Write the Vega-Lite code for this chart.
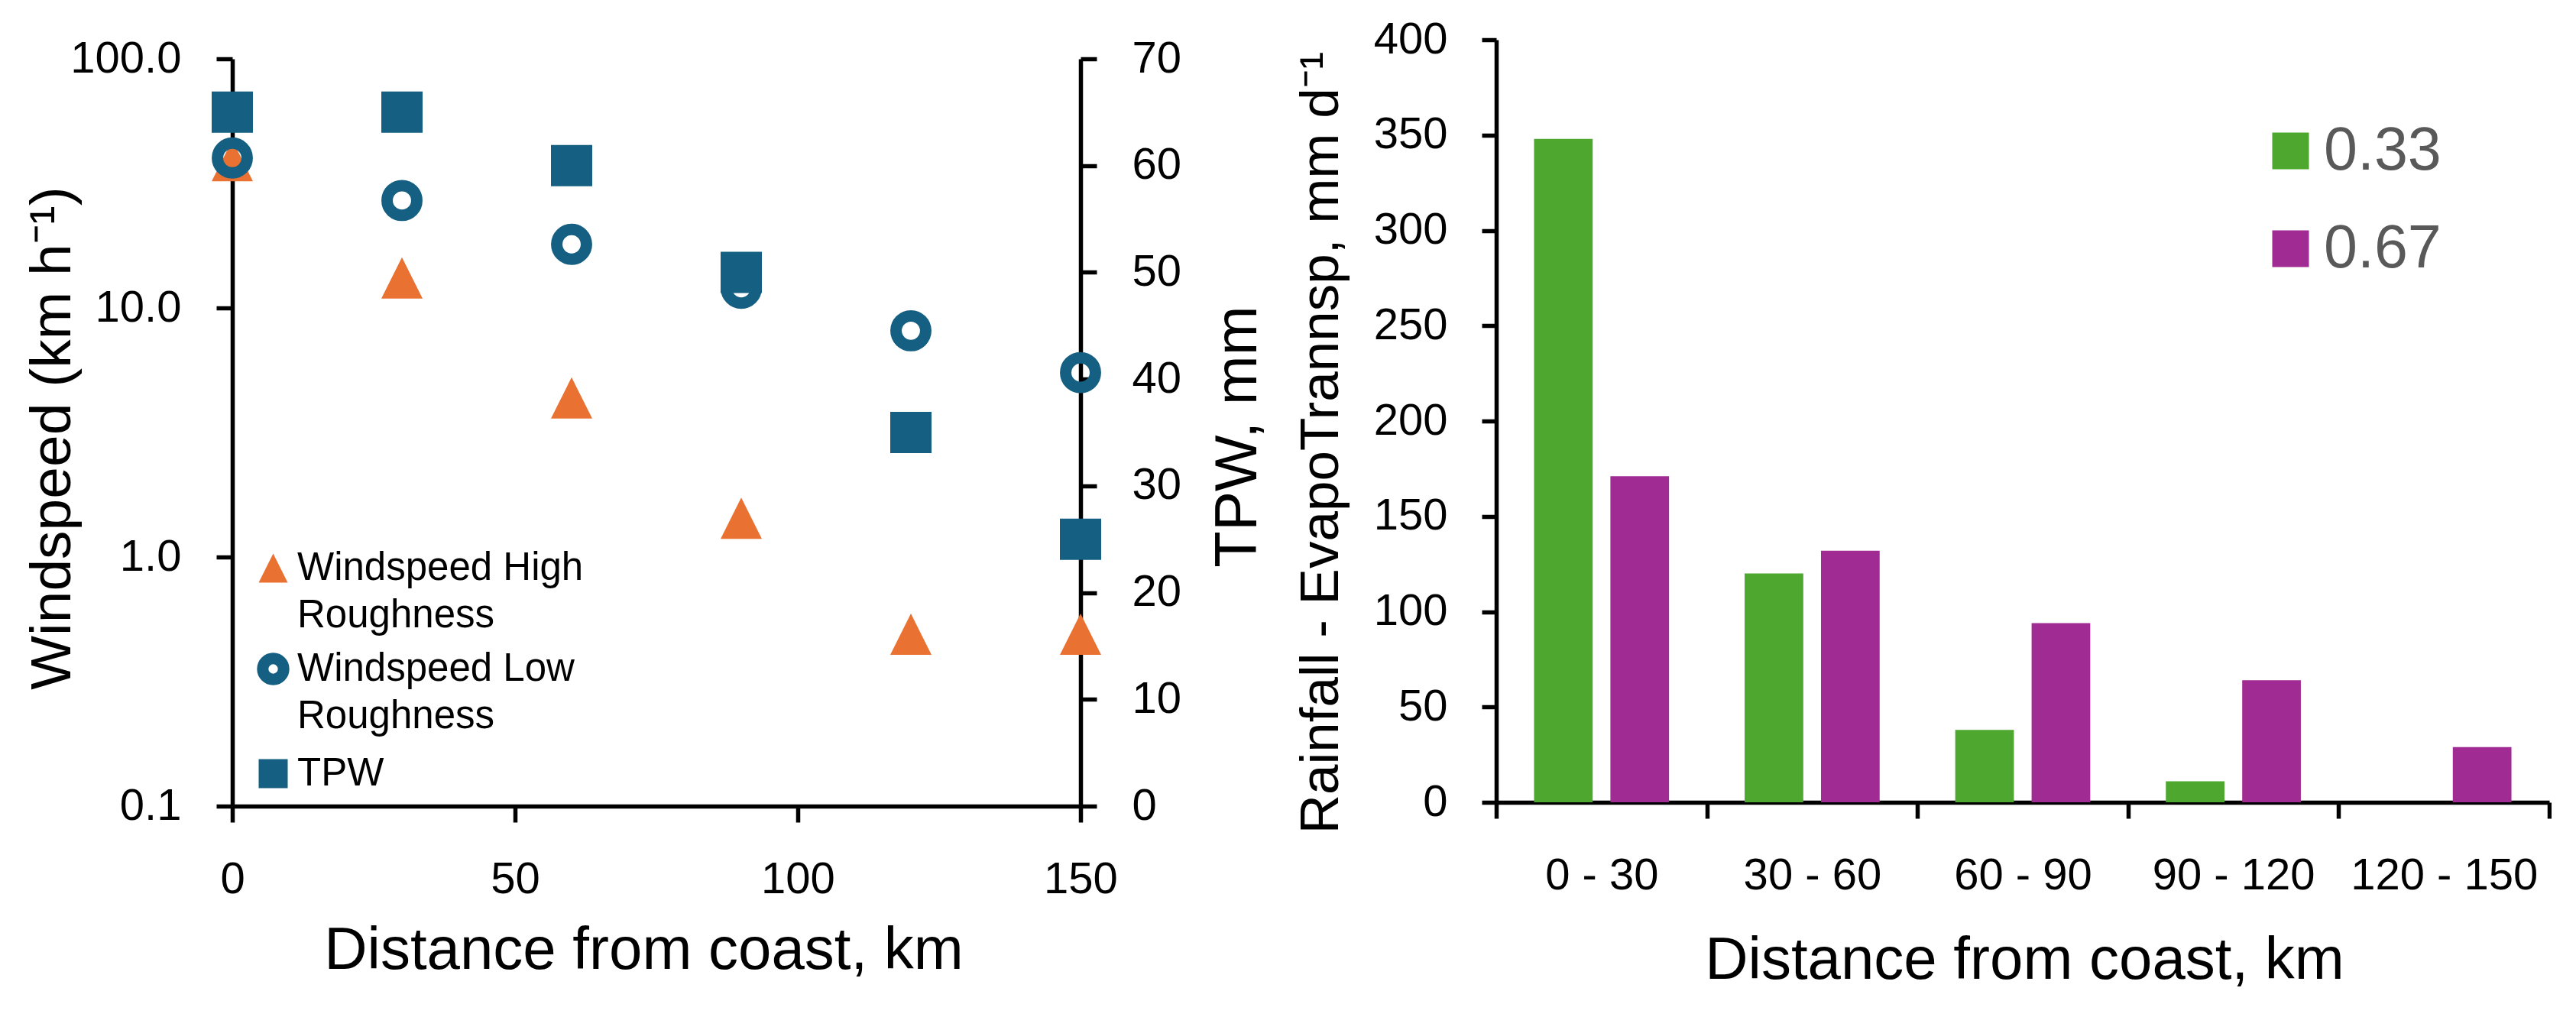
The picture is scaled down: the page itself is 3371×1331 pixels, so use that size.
{
  "$schema": "https://vega.github.io/schema/vega-lite/v6.json",
  "background": "white",
  "padding": {"left": 31, "top": 23, "right": 0, "bottom": 0},
  "bounds": "flush",
  "spacing": 544,
  "config": {
    "font": "Liberation Sans",
    "view": {"stroke": null},
    "axis": {
      "grid": false,
      "domainColor": "black",
      "domainWidth": 5.5,
      "tickColor": "black",
      "tickWidth": 5.5,
      "tickSize": 21,
      "labelFont": "Liberation Sans",
      "labelFontSize": 58,
      "labelColor": "black",
      "labelPadding": 46,
      "labelFlush": false,
      "labelOverlap": false,
      "labelLimit": 0,
      "titleFont": "Liberation Sans",
      "titleFontSize": 78,
      "titleColor": "black",
      "titleFontWeight": "normal",
      "titleBaseline": "alphabetic",
      "titleAlign": "center"
    },
    "legend": {"padding": 0}
  },
  "hconcat": [
    {
      "width": 1110,
      "height": 1003,
      "data": {
        "values": [
          {"distance": 0, "series": "TPW", "value": 65},
          {"distance": 30, "series": "TPW", "value": 65},
          {"distance": 60, "series": "TPW", "value": 60},
          {"distance": 90, "series": "TPW", "value": 50},
          {"distance": 120, "series": "TPW", "value": 35},
          {"distance": 150, "series": "TPW", "value": 25},
          {"distance": 0, "series": "Windspeed High Roughness", "value": 39},
          {"distance": 30, "series": "Windspeed High Roughness", "value": 13.2},
          {"distance": 60, "series": "Windspeed High Roughness", "value": 4.35},
          {"distance": 90, "series": "Windspeed High Roughness", "value": 1.43},
          {"distance": 120, "series": "Windspeed High Roughness", "value": 0.49},
          {"distance": 150, "series": "Windspeed High Roughness", "value": 0.49},
          {"distance": 0, "series": "Windspeed Low Roughness", "value": 40},
          {"distance": 30, "series": "Windspeed Low Roughness", "value": 27},
          {"distance": 60, "series": "Windspeed Low Roughness", "value": 18},
          {"distance": 90, "series": "Windspeed Low Roughness", "value": 12},
          {"distance": 120, "series": "Windspeed Low Roughness", "value": 8.1},
          {"distance": 150, "series": "Windspeed Low Roughness", "value": 5.5}
        ]
      },
      "encoding": {
        "x": {
          "field": "distance",
          "type": "quantitative",
          "scale": {"domain": [0, 150], "nice": false},
          "axis": {
            "values": [0, 50, 100, 150],
            "title": "Distance from coast, km",
            "titleX": 538,
            "titleY": 212
          }
        }
      },
      "layer": [
        {
          "transform": [{"filter": "datum.series == 'TPW'"}],
          "mark": {"type": "point", "size": 2916, "strokeWidth": 15, "opacity": 1},
          "encoding": {
            "y": {
              "field": "value",
              "type": "quantitative",
              "scale": {"domain": [0, 70], "nice": false, "rangeMax": 25},
              "axis": {
                "orient": "right",
                "values": [0, 10, 20, 30, 40, 50, 60, 70],
                "title": "TPW, mm",
                "titleAngle": 270,
                "titleX": 229,
                "titleY": 519
              }
            },
            "shape": {
              "field": "series",
              "type": "nominal",
              "scale": {
                "domain": ["Windspeed High Roughness", "Windspeed Low Roughness", "TPW"],
                "range": ["M0,-1L1,1L-1,1Z", "M0.72,0A0.72,0.72,0,1,1,-0.72,0A0.72,0.72,0,1,1,0.72,0Z", "square"]
              },
              "legend": {
                "title": null, "orient": "none", "legendX": 27, "legendY": 665,
                "symbolSize": 1444, "symbolStrokeWidth": 15,
                "labelFontSize": 51, "labelColor": "black", "labelOffset": 5,
                "labelBaseline": "middle", "labelLimit": 0, "rowPadding": 0,
                "labelExpr": "datum.label == 'TPW' ? 'TPW' : [replace(datum.label, ' Roughness', ''), 'Roughness']",
                "encoding": {"labels": {"lineHeight": {"value": 62}}}
              }
            },
            "fill": {
              "field": "series",
              "type": "nominal",
              "scale": {
                "domain": ["Windspeed High Roughness", "Windspeed Low Roughness", "TPW"],
                "range": ["#E97132", "transparent", "#156082"]
              },
              "legend": {
                "title": null, "orient": "none", "legendX": 27, "legendY": 665,
                "symbolSize": 1444, "symbolStrokeWidth": 15,
                "labelFontSize": 51, "labelColor": "black", "labelOffset": 5,
                "labelBaseline": "middle", "labelLimit": 0, "rowPadding": 0,
                "labelExpr": "datum.label == 'TPW' ? 'TPW' : [replace(datum.label, ' Roughness', ''), 'Roughness']",
                "encoding": {"labels": {"lineHeight": {"value": 62}}}
              }
            },
            "stroke": {
              "field": "series",
              "type": "nominal",
              "scale": {
                "domain": ["Windspeed High Roughness", "Windspeed Low Roughness", "TPW"],
                "range": ["transparent", "#156082", "transparent"]
              },
              "legend": {
                "title": null, "orient": "none", "legendX": 27, "legendY": 665,
                "symbolSize": 1444, "symbolStrokeWidth": 15,
                "labelFontSize": 51, "labelColor": "black", "labelOffset": 5,
                "labelBaseline": "middle", "labelLimit": 0, "rowPadding": 0,
                "labelExpr": "datum.label == 'TPW' ? 'TPW' : [replace(datum.label, ' Roughness', ''), 'Roughness']",
                "encoding": {"labels": {"lineHeight": {"value": 62}}}
              }
            }
          }
        },
        {
          "transform": [{"filter": "datum.series != 'TPW'"}],
          "mark": {"type": "point", "size": 2916, "strokeWidth": 15, "opacity": 1},
          "encoding": {
            "y": {
              "field": "value",
              "type": "quantitative",
              "scale": {"type": "log", "domain": [0.1, 100], "nice": false, "rangeMax": 25},
              "axis": {
                "orient": "left",
                "values": [0.1, 1, 10, 100],
                "format": ".1f",
                "title": "Windspeed (km h⁻¹)",
                "titleAngle": 270,
                "titleFontSize": 75,
                "titleX": -213,
                "titleY": 521
              }
            },
            "shape": {
              "field": "series",
              "type": "nominal",
              "legend": {
                "title": null, "orient": "none", "legendX": 27, "legendY": 665,
                "symbolSize": 1444, "symbolStrokeWidth": 15,
                "labelFontSize": 51, "labelColor": "black", "labelOffset": 5,
                "labelBaseline": "middle", "labelLimit": 0, "rowPadding": 0,
                "labelExpr": "datum.label == 'TPW' ? 'TPW' : [replace(datum.label, ' Roughness', ''), 'Roughness']",
                "encoding": {"labels": {"lineHeight": {"value": 62}}}
              }
            },
            "fill": {
              "field": "series",
              "type": "nominal",
              "legend": {
                "title": null, "orient": "none", "legendX": 27, "legendY": 665,
                "symbolSize": 1444, "symbolStrokeWidth": 15,
                "labelFontSize": 51, "labelColor": "black", "labelOffset": 5,
                "labelBaseline": "middle", "labelLimit": 0, "rowPadding": 0,
                "labelExpr": "datum.label == 'TPW' ? 'TPW' : [replace(datum.label, ' Roughness', ''), 'Roughness']",
                "encoding": {"labels": {"lineHeight": {"value": 62}}}
              }
            },
            "stroke": {
              "field": "series",
              "type": "nominal",
              "legend": {
                "title": null, "orient": "none", "legendX": 27, "legendY": 665,
                "symbolSize": 1444, "symbolStrokeWidth": 15,
                "labelFontSize": 51, "labelColor": "black", "labelOffset": 5,
                "labelBaseline": "middle", "labelLimit": 0, "rowPadding": 0,
                "labelExpr": "datum.label == 'TPW' ? 'TPW' : [replace(datum.label, ' Roughness', ''), 'Roughness']",
                "encoding": {"labels": {"lineHeight": {"value": 62}}}
              }
            }
          }
        }
      ],
      "resolve": {"scale": {"y": "independent"}}
    },
    {
      "width": 1378,
      "height": 998,
      "data": {
        "values": [
          {"range": "0 - 30", "ratio": "0.33", "value": 348},
          {"range": "0 - 30", "ratio": "0.67", "value": 171},
          {"range": "30 - 60", "ratio": "0.33", "value": 120},
          {"range": "30 - 60", "ratio": "0.67", "value": 132},
          {"range": "60 - 90", "ratio": "0.33", "value": 38},
          {"range": "60 - 90", "ratio": "0.67", "value": 94},
          {"range": "90 - 120", "ratio": "0.33", "value": 11},
          {"range": "90 - 120", "ratio": "0.67", "value": 64},
          {"range": "120 - 150", "ratio": "0.33", "value": 0},
          {"range": "120 - 150", "ratio": "0.67", "value": 29}
        ]
      },
      "mark": {"type": "bar"},
      "encoding": {
        "x": {
          "field": "range",
          "type": "nominal",
          "sort": ["0 - 30", "30 - 60", "60 - 90", "90 - 120", "120 - 150"],
          "scale": {"paddingInner": 0, "paddingOuter": 0},
          "axis": {
            "title": "Distance from coast, km",
            "labelAngle": 0,
            "labelLimit": 0,
            "tickBand": "extent",
            "titleX": 691,
            "titleY": 230
          }
        },
        "xOffset": {
          "field": "ratio",
          "type": "nominal",
          "scale": {"paddingInner": 0.232, "paddingOuter": 0.495}
        },
        "y": {
          "field": "value",
          "type": "quantitative",
          "scale": {"domain": [0, 400], "nice": false},
          "axis": {
            "values": [0, 50, 100, 150, 200, 250, 300, 350, 400],
            "title": "Rainfall - EvapoTrannsp, mm d⁻¹",
            "titleAngle": 270,
            "titleX": -208,
            "titleY": 527,
            "titleFontSize": 71,
            "tickSize": 19,
            "labelPadding": 45
          }
        },
        "color": {
          "field": "ratio",
          "type": "nominal",
          "scale": {"domain": ["0.33", "0.67"], "range": ["#4EA72E", "#A02B93"]},
          "legend": {
            "title": null, "orient": "none", "legendX": 2654, "legendY": 106,
            "symbolType": "square", "symbolSize": 2304, "symbolStrokeWidth": 0,
            "labelFontSize": 79, "labelColor": "#595959", "labelOffset": 4,
            "rowPadding": 48
          }
        }
      }
    }
  ]
}
